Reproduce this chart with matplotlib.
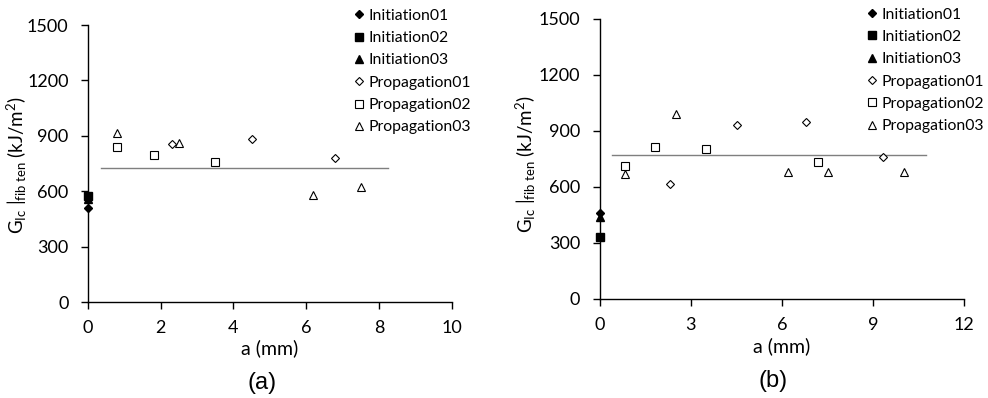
import matplotlib.pyplot as plt

plt.rcParams['font.family'] = ['Lato', 'DejaVu Sans']
plt.rcParams['mathtext.fontset'] = 'custom'
plt.rcParams['mathtext.rm'] = 'Lato'
plt.rcParams['mathtext.it'] = 'Lato'

series_names = ["Initiation01", "Initiation02", "Initiation03",
                "Propagation01", "Propagation02", "Propagation03"]

# panel (a)
a_init01_x, a_init01_y = [0], [508]
a_init02_x, a_init02_y = [0], [575]
a_init03_x, a_init03_y = [0], [558]
a_prop01_x, a_prop01_y = [2.3, 4.5, 6.8], [856, 885, 779]
a_prop02_x, a_prop02_y = [0.8, 1.82, 3.5], [842, 797, 757]
a_prop03_x, a_prop03_y = [0.8, 2.5, 6.2, 7.5], [914, 863, 580, 625]
a_mean_x, a_mean_y = [0.36, 8.24], [728, 728]

# panel (b)
b_init01_x, b_init01_y = [0], [459]
b_init02_x, b_init02_y = [0], [332]
b_init03_x, b_init03_y = [0], [437]
b_prop01_x, b_prop01_y = [2.3, 4.52, 6.8, 9.31], [616, 932, 945, 757]
b_prop02_x, b_prop02_y = [0.82, 1.82, 3.5, 7.2], [712, 814, 802, 732]
b_prop03_x, b_prop03_y = [0.82, 2.5, 6.2, 7.52, 10.0], [668, 991, 682, 677, 677]
b_mean_x, b_mean_y = [0.4, 10.75], [768, 768]

ylabel = r"G$_{\mathrm{Ic}}$ $|_{\mathrm{fib\ ten}}$ (kJ/m$^2$)"

styles = [
    dict(marker='D', color='black', markersize=4),
    dict(marker='s', color='black', markersize=5.5),
    dict(marker='^', color='black', markersize=5.5),
    dict(marker='D', markerfacecolor='white', markeredgecolor='black', markersize=4.5, markeredgewidth=0.8),
    dict(marker='s', markerfacecolor='white', markeredgecolor='black', markersize=5.5, markeredgewidth=0.8),
    dict(marker='^', markerfacecolor='white', markeredgecolor='black', markersize=6, markeredgewidth=0.8),
]


def draw_panel(ax, data, mean_x, mean_y, xmax, xstep, legend_pos, ylab_pos, xlab_y):
    for (xs, ys), name, st in zip(data, series_names, styles):
        ax.plot(xs, ys, linestyle='none', label=name, clip_on=False, zorder=3, **st)
    ax.plot(mean_x, mean_y, color='#7f7f7f', linewidth=1.0, zorder=2)
    ax.set_xlim(0, xmax)
    ax.set_ylim(0, 1500)
    ax.set_xticks(range(0, xmax + 1, xstep))
    ax.set_yticks(range(0, 1501, 300))
    for side in ['top', 'right']:
        ax.spines[side].set_visible(False)
    for side in ['left', 'bottom']:
        ax.spines[side].set_linewidth(1.0)
    ax.tick_params(direction='out', length=5, width=1.0, labelsize=13, colors='black')
    ax.tick_params(axis='x', pad=8)
    ax.tick_params(axis='y', pad=9)
    ax.set_xlabel("a (mm)", fontsize=14)
    ax.set_ylabel(ylabel, fontsize=13.5)
    ax.yaxis.set_label_coords(*ylab_pos)
    ax.xaxis.set_label_coords(0.5, xlab_y)
    ax.legend(loc='upper left', bbox_to_anchor=legend_pos, bbox_transform=fig.transFigure,
              frameon=False, fontsize=11.3, handlelength=0.5, handletextpad=0.3,
              labelspacing=0.53, borderpad=0, borderaxespad=0)


fig = plt.figure(figsize=(9.88, 3.98), dpi=100)
ax1 = fig.add_axes([0.0891, 0.241, 0.368, 0.696])
ax2 = fig.add_axes([0.607, 0.249, 0.369, 0.704])

draw_panel(ax1,
           [(a_init01_x, a_init01_y), (a_init02_x, a_init02_y), (a_init03_x, a_init03_y),
            (a_prop01_x, a_prop01_y), (a_prop02_x, a_prop02_y), (a_prop03_x, a_prop03_y)],
           a_mean_x, a_mean_y, 10, 2, (355.5 / 988, 0.978), (-0.162, 0.495), -0.134)
draw_panel(ax2,
           [(b_init01_x, b_init01_y), (b_init02_x, b_init02_y), (b_init03_x, b_init03_y),
            (b_prop01_x, b_prop01_y), (b_prop02_x, b_prop02_y), (b_prop03_x, b_prop03_y)],
           b_mean_x, b_mean_y, 12, 3, (868.5 / 988, 0.981), (-0.17, 0.482), -0.136)

fig.text(262 / 988, 1 - 383 / 398, "(a)", ha='center', va='center', fontsize=17,
         family=['Liberation Sans', 'DejaVu Sans'])
fig.text(773 / 988, 1 - 381 / 398, "(b)", ha='center', va='center', fontsize=17,
         family=['Liberation Sans', 'DejaVu Sans'])

fig.savefig("out.png", dpi=100)
